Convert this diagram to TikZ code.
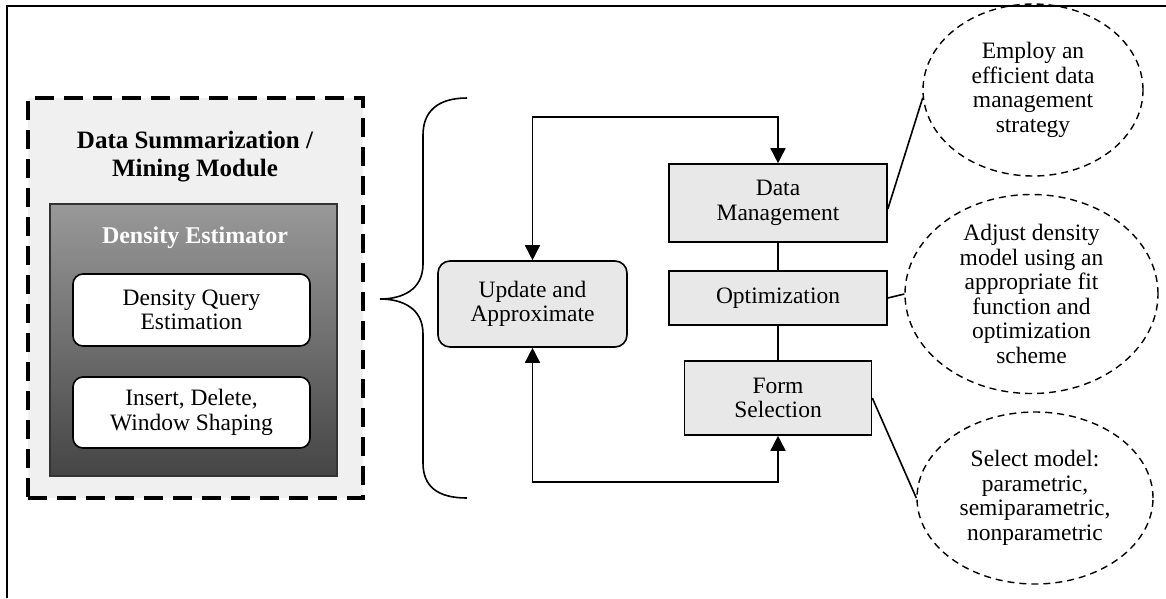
\documentclass[tikz,border=0pt]{standalone}
\usepackage{fontspec}
\setmainfont{Liberation Serif}
\usetikzlibrary{shapes.geometric,arrows.meta}

\tikzset{
  txt/.style={font=\fontsize{23.5}{24.5}\selectfont, align=center, inner sep=0pt},
  procbox/.style={txt, draw, line width=1.6pt, fill=black!9},
  whitebox/.style={txt, draw, line width=1.6pt, fill=white, rounded corners=10pt},
  note/.style={txt, ellipse, draw, line width=1.4pt, dash pattern=on 7pt off 5pt},
  link/.style={line width=1.6pt},
  flow/.style={line width=1.6pt, {Triangle[length=15pt,width=15pt]}-{Triangle[length=15pt,width=15pt]}},
}

\begin{document}
\begin{tikzpicture}[x=1pt,y=-1pt]
\useasboundingbox (0,0) rectangle (1166,598);

% partial frame along the top and left edges
\coordinate (frameTL) at (6.5,5.5);
\draw[line width=2pt] (1166,5.5) -- (frameTL) -- (6.5,598);

% summarization / mining module
\node[draw, line width=3.6pt, dash pattern=on 19pt off 10pt, fill=black!6,
      minimum width=335pt, minimum height=400pt] (module) at (195.5,298) {};
\node[font=\fontsize{25}{28}\selectfont\bfseries, align=center, inner sep=0pt]
      (modtitle) at (195,157) {Data Summarization /\\Mining Module};

\node[draw=black!80, line width=1.2pt, top color=black!40, bottom color=black!73,
      minimum width=287pt, minimum height=272pt] (estim) at (193.5,340) {};
\node[font=\fontsize{24}{26}\selectfont\bfseries, text=white, inner sep=0pt]
      (estimtitle) at (195,238) {Density Estimator};

\node[whitebox, minimum width=237pt, minimum height=72pt] (query) at (191.5,310)
      {Density Query\\Estimation};
\node[whitebox, minimum width=237pt, minimum height=71pt] (insert) at (191.5,412.5)
      {Insert, Delete,\\Window Shaping};

% brace
\draw[line width=1.6pt] (467,98) .. controls (437,98) and (423,112) .. (423,135)
  -- (423,264) .. controls (423,290) and (402,299) .. (380,299)
  .. controls (402,299) and (423,308) .. (423,334)
  -- (423,463) .. controls (423,486) and (437,498) .. (467,498);

% process loop
\node[procbox, rounded corners=12pt, minimum width=189pt, minimum height=86pt]
      (update) at (532.5,304) {Update and\\Approximate};
\node[procbox, minimum width=218pt, minimum height=78pt] (datamgmt) at (778,203)
      {Data\\Management};
\node[procbox, minimum width=218pt, minimum height=54pt] (optim) at (778,298)
      {Optimization};
\node[procbox, minimum width=187pt, minimum height=74pt] (formsel) at (778,398)
      {Form\\Selection};

\coordinate (topY) at (0,117);
\coordinate (botY) at (0,482);
\draw[flow] (update.north) -- (update.north |- topY) -| (datamgmt.north);
\draw[flow] (update.south) -- (update.south |- botY) -| (formsel.south);
\draw[link] (datamgmt.south) -- (optim.north);
\draw[link] (optim.south) -- (formsel.north);

% annotations
\node[note, minimum width=220pt, minimum height=172pt] (noteA) at (1033,90)
      {Employ an\\efficient data\\management\\strategy};
\node[note, minimum width=253pt, minimum height=199pt] (noteB) at (1031.5,294)
      {Adjust density\\model using an\\appropriate fit\\function and\\optimization\\scheme};
\node[note, minimum width=236pt, minimum height=172pt] (noteC) at (1035,498)
      {Select model:\\parametric,\\semiparametric,\\nonparametric};

\draw[link] ([yshift=-6pt]datamgmt.east) -- (noteA.184);
\draw[link] (optim.east) -- (noteB.west);
\draw[link] (formsel.east) -- (noteC.west);
\end{tikzpicture}
\end{document}
